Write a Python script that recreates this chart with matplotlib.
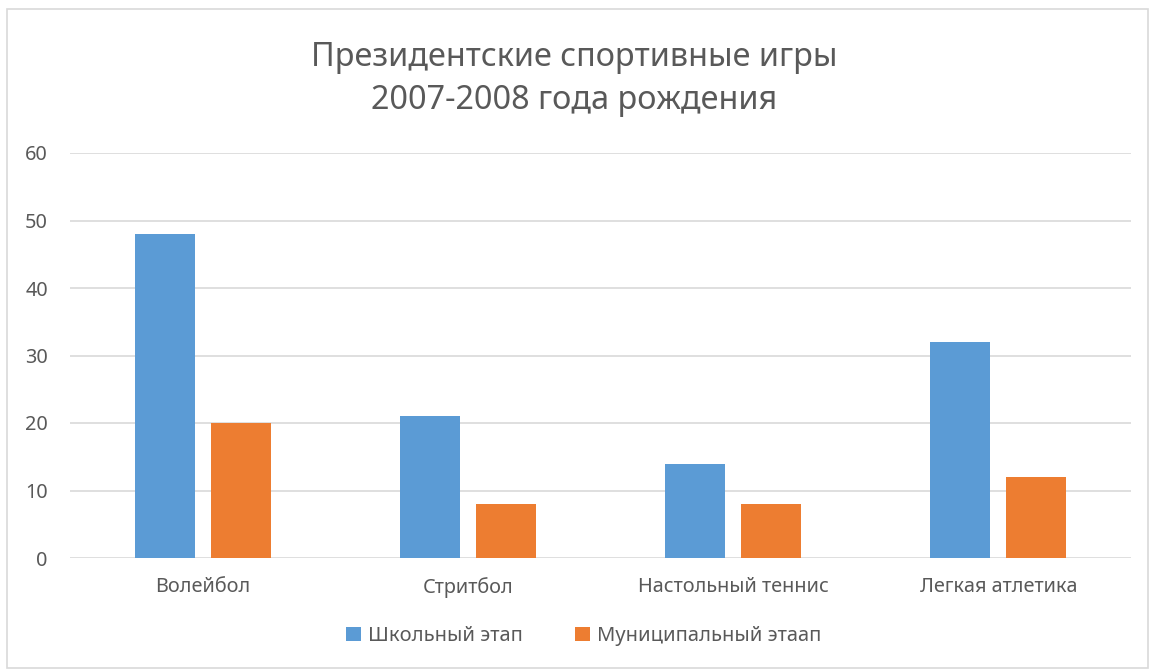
import numpy as np
import matplotlib.pyplot as plt
from matplotlib.patches import Rectangle

plt.rcParams['font.family'] = ['Noto Sans', 'DejaVu Sans']

categories = ["Волейбол", "Стритбол", "Настольный теннис", "Легкая атлетика"]
school = [48, 21, 14, 32]
municipal = [20, 8, 8, 12]
series_names = ["Школьный этап", "Муниципальный этаап"]
yticks = [0, 10, 20, 30, 40, 50, 60]

blue = "#5B9BD5"
orange = "#ED7D31"
txt = "#595959"

fig = plt.figure(figsize=(11.49, 6.71), dpi=100)
fig.patches.append(Rectangle((7 / 1149, 1 - 668 / 671), 1141 / 1149, 659 / 671,
                             transform=fig.transFigure, fill=False,
                             edgecolor="#D9D9D9", linewidth=1.2))
ax = fig.add_axes([70 / 1149, 1 - 558 / 671, 1061 / 1149, 405 / 671])

x = np.arange(len(categories))
w = 0.226
off = 0.143
ax.bar(x - off, school, w, color=blue, label=series_names[0], zorder=3)
ax.bar(x + off, municipal, w, color=orange, label=series_names[1], zorder=3)

ax.set_xlim(-0.5, len(categories) - 0.5)
ax.set_ylim(0, 60)
ax.set_yticks(yticks)
ax.set_xticks(x)
ax.set_xticklabels(categories)
ax.tick_params(axis="both", length=0, colors=txt, labelsize=14.3)
ax.tick_params(axis="y", pad=16)
ax.tick_params(axis="x", pad=14)
ax.grid(axis="y", color="#D9D9D9", linewidth=1.2, zorder=0)
for s in ax.spines.values():
    s.set_visible(False)

fig.text(0.5, 1 - 79 / 671, "Президентские спортивные игры\n2007-2008 года рождения",
         ha="center", va="center", fontsize=23.3, color=txt, linespacing=1.4)

ax.legend(loc="center", bbox_to_anchor=(0.508, 1 - 636 / 671), bbox_transform=fig.transFigure,
          ncol=2, frameon=False, fontsize=14.5, labelcolor=txt, handlelength=0.75,
          handleheight=0.75, handletextpad=0.35, columnspacing=2.6)

fig.savefig("out.png", dpi=100)
